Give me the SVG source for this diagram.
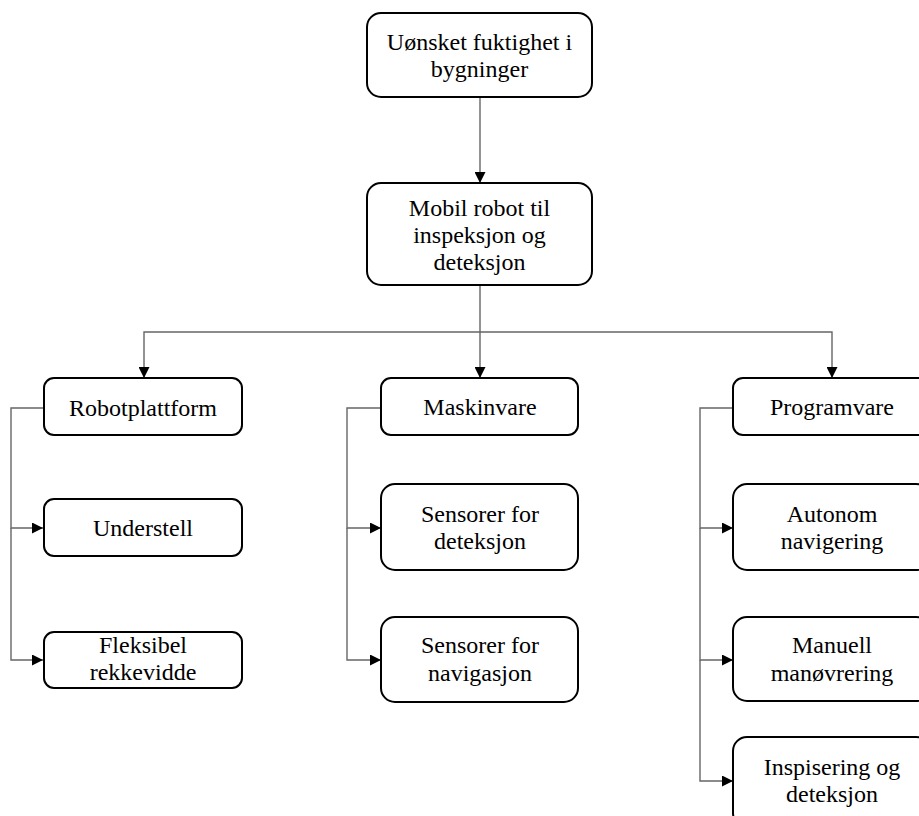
<svg xmlns="http://www.w3.org/2000/svg" width="919" height="816" viewBox="0 0 919 816">
  <style>
    .box { fill: #ffffff; stroke: #000000; stroke-width: 2; }
    .lbl { font-family: "Liberation Serif", "Times New Roman", serif; font-size: 24px; fill: #000000; text-anchor: middle; }
    .link { fill: none; stroke: #666666; stroke-width: 1.4; }
  </style>
  <defs>
    <marker id="arrow" viewBox="0 0 10 10" refX="10" refY="5" markerWidth="11" markerHeight="11" markerUnits="userSpaceOnUse" orient="auto">
      <path d="M0,0 L10,5 L0,10 Z" fill="#000000"/>
    </marker>
  </defs>

  <!-- connectors -->
  <g id="connectors">
    <path class="link" d="M480,97 V183" marker-end="url(#arrow)"/>
    <path class="link" d="M480,285 V332 H144 V378" marker-end="url(#arrow)"/>
    <path class="link" d="M480,332 V378" marker-end="url(#arrow)"/>
    <path class="link" d="M480,332 H832 V378" marker-end="url(#arrow)"/>

    <!-- left column rail -->
    <path class="link" d="M45,408 H11 V528 H43" marker-end="url(#arrow)"/>
    <path class="link" d="M11,528 V660 H43" marker-end="url(#arrow)"/>

    <!-- middle column rail -->
    <path class="link" d="M383,408 H347 V528 H381" marker-end="url(#arrow)"/>
    <path class="link" d="M347,528 V660 H381" marker-end="url(#arrow)"/>

    <!-- right column rail -->
    <path class="link" d="M735,408 H700 V528 H733" marker-end="url(#arrow)"/>
    <path class="link" d="M700,528 V660 H733" marker-end="url(#arrow)"/>
    <path class="link" d="M700,660 V781 H733" marker-end="url(#arrow)"/>
  </g>

  <!-- top level -->
  <g id="node-fuktighet">
    <rect class="box" x="367" y="13" width="225" height="84" rx="14"/>
    <text class="lbl" x="479.5" y="50">Uønsket fuktighet i</text>
    <text class="lbl" x="479.5" y="77">bygninger</text>
  </g>

  <g id="node-robot">
    <rect class="box" x="367" y="183" width="225" height="102" rx="14"/>
    <text class="lbl" x="479.5" y="216">Mobil robot til</text>
    <text class="lbl" x="479.5" y="243">inspeksjon og</text>
    <text class="lbl" x="479.5" y="270">deteksjon</text>
  </g>

  <!-- left column -->
  <g id="node-robotplattform">
    <rect class="box" x="44" y="378" width="198" height="57" rx="10"/>
    <text class="lbl" x="143" y="416">Robotplattform</text>
  </g>
  <g id="node-understell">
    <rect class="box" x="44" y="499" width="198" height="57" rx="10"/>
    <text class="lbl" x="143" y="536">Understell</text>
  </g>
  <g id="node-rekkevidde">
    <rect class="box" x="44" y="632" width="198" height="56" rx="10"/>
    <text class="lbl" x="143" y="653">Fleksibel</text>
    <text class="lbl" x="143" y="680">rekkevidde</text>
  </g>

  <!-- middle column -->
  <g id="node-maskinvare">
    <rect class="box" x="381" y="378" width="197" height="57" rx="10"/>
    <text class="lbl" x="480" y="415">Maskinvare</text>
  </g>
  <g id="node-sensor-deteksjon">
    <rect class="box" x="381" y="484" width="197" height="86" rx="14"/>
    <text class="lbl" x="480" y="522">Sensorer for</text>
    <text class="lbl" x="480" y="549">deteksjon</text>
  </g>
  <g id="node-sensor-navigasjon">
    <rect class="box" x="381" y="617" width="197" height="85" rx="14"/>
    <text class="lbl" x="480" y="653">Sensorer for</text>
    <text class="lbl" x="480" y="681">navigasjon</text>
  </g>

  <!-- right column -->
  <g id="node-programvare">
    <rect class="box" x="733" y="378" width="197" height="57" rx="10"/>
    <text class="lbl" x="832" y="415">Programvare</text>
  </g>
  <g id="node-autonom">
    <rect class="box" x="733" y="484" width="197" height="86" rx="14"/>
    <text class="lbl" x="832" y="522">Autonom</text>
    <text class="lbl" x="832" y="549">navigering</text>
  </g>
  <g id="node-manuell">
    <rect class="box" x="733" y="617" width="197" height="84" rx="14"/>
    <text class="lbl" x="832" y="653">Manuell</text>
    <text class="lbl" x="832" y="681">manøvrering</text>
  </g>
  <g id="node-inspisering">
    <rect class="box" x="733" y="737" width="197" height="90" rx="14"/>
    <text class="lbl" x="832" y="775">Inspisering og</text>
    <text class="lbl" x="832" y="802">deteksjon</text>
  </g>
</svg>
